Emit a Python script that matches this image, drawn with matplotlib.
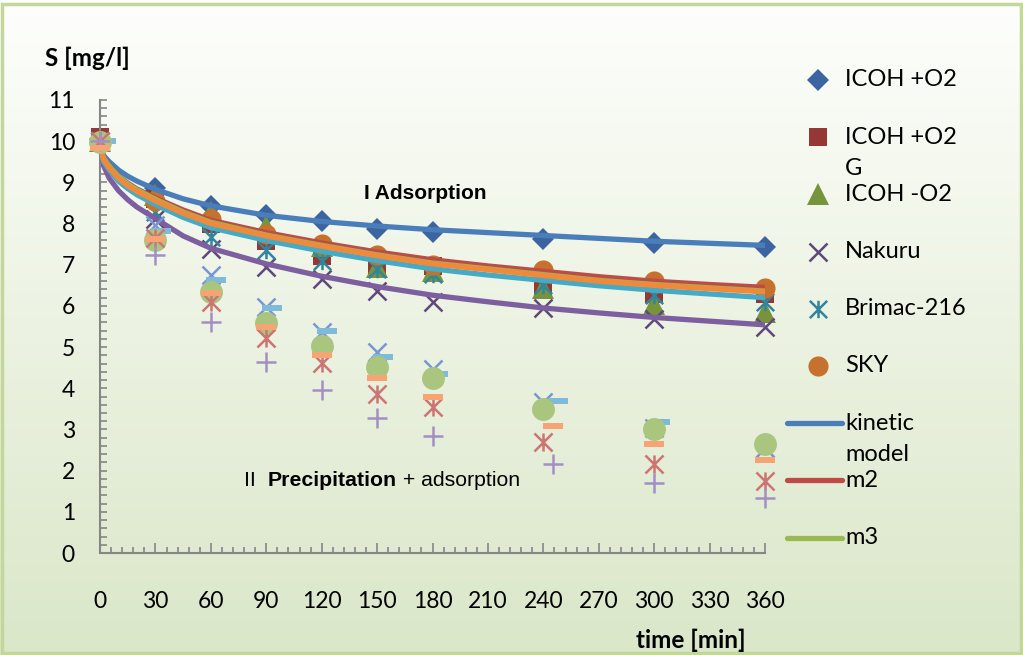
import numpy as np
import matplotlib.pyplot as plt
from matplotlib.path import Path
from matplotlib.lines import Line2D
from matplotlib.patches import Rectangle
from matplotlib.ticker import MultipleLocator

plt.rcParams['font.family'] = ['Lato', 'DejaVu Sans']

W, H = 1023, 655

# sampling times [min]
t = [0, 30, 60, 90, 120, 150, 180, 240, 300, 360]

# I  adsorption - measured
icoh_o2 = [10.05, 8.86, 8.42, 8.2, 8.06, 7.86, 7.79, 7.62, 7.52, 7.43]
icoh_o2_g = [10.1, 8.6, 7.98, 7.58, 7.2, 6.95, 6.98, 6.48, 6.3, 6.3]
icoh_no_o2 = [10.0, 8.7, 8.28, 7.95, 7.45, 6.95, 6.85, 6.43, 6.05, 5.85]
nakuru = [10.0, 8.12, 7.38, 6.95, 6.65, 6.35, 6.1, 5.95, 5.68, 5.5]
brimac = [10.0, 8.28, 7.68, 7.35, 7.1, 6.9, 6.78, 6.5, 6.27, 6.1]
sky = [9.95, 8.55, 8.1, 7.75, 7.5, 7.23, 7.0, 6.87, 6.6, 6.43]

# II  precipitation + adsorption - measured
t_b = [3, 33, 63, 93, 123, 153, 183, 248, 303, 363]
t_d = [0, 30, 60, 90, 120, 150, 180, 245, 300, 360]
p_a = [10.0, 7.97, 6.75, 5.97, 5.36, 4.89, 4.48, 3.67, 3.03, 2.54]
p_b = [10.0, 7.82, 6.63, 5.95, 5.4, 4.75, 4.34, 3.7, 3.19, 2.6]
p_c = [9.98, 7.6, 6.33, 5.58, 5.02, 4.51, 4.24, 3.5, 3.02, 2.65]
p_d = [9.83, 7.62, 6.31, 5.49, 4.8, 4.25, 3.8, 3.09, 2.65, 2.25]
p_e = [10.0, 7.65, 6.1, 5.22, 4.61, 3.85, 3.55, 2.69, 2.15, 1.75]
p_f = [10.0, 7.23, 5.6, 4.64, 3.96, 3.29, 2.85, 2.15, 1.71, 1.33]

# kinetic model curves
t_m = [0, 2, 5, 10, 15, 20, 30, 45, 60, 90, 120, 150, 180, 210, 240, 270, 300, 330, 360]
m_kin = [9.85, 9.65, 9.5, 9.3, 9.15, 9.03, 8.83, 8.6, 8.43, 8.2, 8.05, 7.94, 7.85, 7.78, 7.71, 7.64, 7.57, 7.52, 7.47]
m2 = [9.85, 9.6, 9.4, 9.15, 8.98, 8.84, 8.62, 8.33, 8.08, 7.78, 7.53, 7.31, 7.12, 6.97, 6.84, 6.71, 6.6, 6.52, 6.45]
m3 = [9.85, 9.58, 9.39, 9.14, 8.96, 8.82, 8.59, 8.28, 8.03, 7.72, 7.47, 7.24, 7.04, 6.9, 6.76, 6.62, 6.52, 6.44, 6.36]
m4 = [9.85, 9.4, 9.1, 8.8, 8.58, 8.4, 8.12, 7.7, 7.4, 7.02, 6.72, 6.47, 6.26, 6.1, 5.95, 5.83, 5.72, 5.63, 5.54]
m5 = [9.85, 9.5, 9.3, 9.03, 8.85, 8.7, 8.46, 8.15, 7.9, 7.59, 7.33, 7.1, 6.9, 6.75, 6.62, 6.49, 6.38, 6.29, 6.2]
m6 = [9.85, 9.55, 9.35, 9.1, 8.92, 8.78, 8.55, 8.25, 8.0, 7.7, 7.45, 7.22, 7.02, 6.88, 6.74, 6.6, 6.5, 6.42, 6.34]

# marker shapes
star = Path([(-1, -1), (1, 1), (-1, 1), (1, -1), (0, -1), (0, 1)],
            [Path.MOVETO, Path.LINETO, Path.MOVETO, Path.LINETO, Path.MOVETO, Path.LINETO])
bar = [(-1, -0.33), (1, -0.33), (1, 0.33), (-1, 0.33), (-1, -0.33)]

fig = plt.figure(figsize=(W / 100, H / 100), dpi=100)

# gradient background
bg = fig.add_axes([0, 0, 1, 1])
top = np.array([0.995, 0.998, 0.99])
bot = np.array([0.855, 0.905, 0.785])
g = np.linspace(0, 1, 256)[:, None, None]
grad = top * (1 - g) + bot * g
bg.imshow(np.repeat(grad, 4, axis=1), aspect='auto', extent=[0, 1, 0, 1])
bg.set_axis_off()
fig.patches.append(Rectangle((2 / W, 2 / H), 1 - 4 / W, 1 - 6 / H, transform=fig.transFigure,
                             fill=False, ec='#C3D69B', lw=2.5))

ax = fig.add_axes([100 / W, (H - 553) / H, 665 / W, 453 / H])
ax.set_facecolor('none')
ax.set_zorder(1)

mk = 1.8
# group I markers
ax.plot(t, icoh_o2, 'D', ms=11.5, color='#3B64A0', mew=0, zorder=2, clip_on=False)
ax.plot(t, icoh_o2_g, 's', ms=13, color='#953735', mew=0, zorder=2, clip_on=False)
ax.plot(t, icoh_no_o2, '^', ms=16, color='#77933C', mew=0, zorder=2, clip_on=False)
ax.plot(t, nakuru, 'x', ms=13, color='#5F497A', mew=mk, zorder=2, clip_on=False)
ax.plot(t, brimac, marker=star, ls='none', ms=12.5, mfc='none', mec='#31859C', mew=mk, zorder=2, clip_on=False)
ax.plot(t, sky, 'o', ms=14.5, color='#C6722E', mew=0, zorder=2, clip_on=False)

# model lines
lw = 3.8
ax.plot(t_m, m_kin, color='#4A7EBB', lw=lw, zorder=3)
ax.plot(t_m, m2, color='#BE4B48', lw=lw, zorder=3)
ax.plot(t_m, m3, color='#98B954', lw=lw, zorder=3)
ax.plot(t_m, m4, color='#7D5FA0', lw=lw, zorder=3)
ax.plot(t_m, m5, color='#46AAC5', lw=lw, zorder=3)
ax.plot(t_m, m6, color='#F08A3A', lw=lw, zorder=3)

# group II markers
ax.plot(t, p_a, 'x', ms=13, color='#7896D2', mew=mk, zorder=4, clip_on=False)
ax.plot(t_b, p_b, marker=bar, ls='none', ms=14, color='#7FBBD8', mew=0, zorder=4)
ax.plot(t, p_c, 'o', ms=16.5, color='#A9C57E', mew=0, zorder=4, clip_on=False)
ax.plot(t_d, p_d, marker=bar, ls='none', ms=15, color='#F7A475', mew=0, zorder=5, clip_on=False)
ax.plot(t, p_e, marker=star, ls='none', ms=13, mfc='none', mec='#CD7573', mew=mk, zorder=4, clip_on=False)
ax.plot(t_d, p_f, '+', ms=15, color='#A38FC3', mew=mk, zorder=4, clip_on=False)

ax.set_xlim(0, 360)
ax.set_ylim(0, 11)
for s in ['top', 'right']:
    ax.spines[s].set_visible(False)
for s in ['left', 'bottom']:
    ax.spines[s].set_color('#868686')
    ax.spines[s].set_linewidth(1.5)
ax.xaxis.set_major_locator(MultipleLocator(30))
ax.xaxis.set_minor_locator(MultipleLocator(6))
ax.yaxis.set_major_locator(MultipleLocator(1))
ax.yaxis.set_minor_locator(MultipleLocator(0.2))
ax.tick_params(axis='x', which='major', direction='in', length=7, width=1.2, color='#868686',
               pad=27, labelsize=16.5)
ax.tick_params(axis='x', which='minor', direction='in', length=4, width=1.2, color='#868686')
ax.tick_params(axis='y', which='both', direction='in', length=5, width=1.2, color='#868686',
               pad=18, labelsize=16.5)

fig.text(45 / W, 1 - 58 / H, 'S [mg/l]', fontsize=17.5, fontweight='bold', va='center')
fig.text(636 / W, 1 - 640 / H, 'time [min]', fontsize=17.5, fontweight='bold', va='center')

ax.text(176, 8.74, 'I Adsorption', family='Liberation Sans', fontsize=15,
        fontweight='bold', ha='center', va='center')
t1 = ax.text(78, 1.77, 'II  ', family='Liberation Sans', fontsize=15.3, va='center')
t2 = ax.annotate('Precipitation', xy=(1, 0), xycoords=t1, family='Liberation Sans',
                 fontsize=15.3, fontweight='bold', va='bottom')
ax.annotate(' + adsorption', xy=(1, 0), xycoords=t2, family='Liberation Sans',
            fontsize=15.3, va='bottom')

# legend
entries = [
    (['ICOH +O2'], dict(marker='D', ms=11.5, color='#3B64A0', mew=0, ls='none')),
    (['ICOH +O2', 'G'], dict(marker='s', ms=13, color='#953735', mew=0, ls='none')),
    (['ICOH -O2'], dict(marker='^', ms=16, color='#77933C', mew=0, ls='none')),
    (['Nakuru'], dict(marker='x', ms=13, color='#5F497A', mew=mk, ls='none')),
    (['Brimac-216'], dict(marker=star, ms=12.5, mfc='none', mec='#31859C', mew=mk, ls='none')),
    (['SKY'], dict(marker='o', ms=14.5, color='#C6722E', mew=0, ls='none')),
    (['kinetic', 'model'], dict(color='#4A7EBB', lw=lw)),
    (['m2'], dict(color='#BE4B48', lw=lw)),
    (['m3'], dict(color='#98B954', lw=lw)),
]
for i, (lab, st) in enumerate(entries):
    y = 1 - (80 + 57.2 * i) / H
    if 'marker' in st:
        fig.add_artist(Line2D([818 / W], [y], transform=fig.transFigure, **st))
    else:
        fig.add_artist(Line2D([787 / W, 842 / W], [y, y], transform=fig.transFigure,
                              solid_capstyle='round', **st))
    for j, line in enumerate(lab):
        fig.text(845 / W, y - j * 31 / H, line, fontsize=17, va='center')

fig.savefig('out.png', dpi=100)
